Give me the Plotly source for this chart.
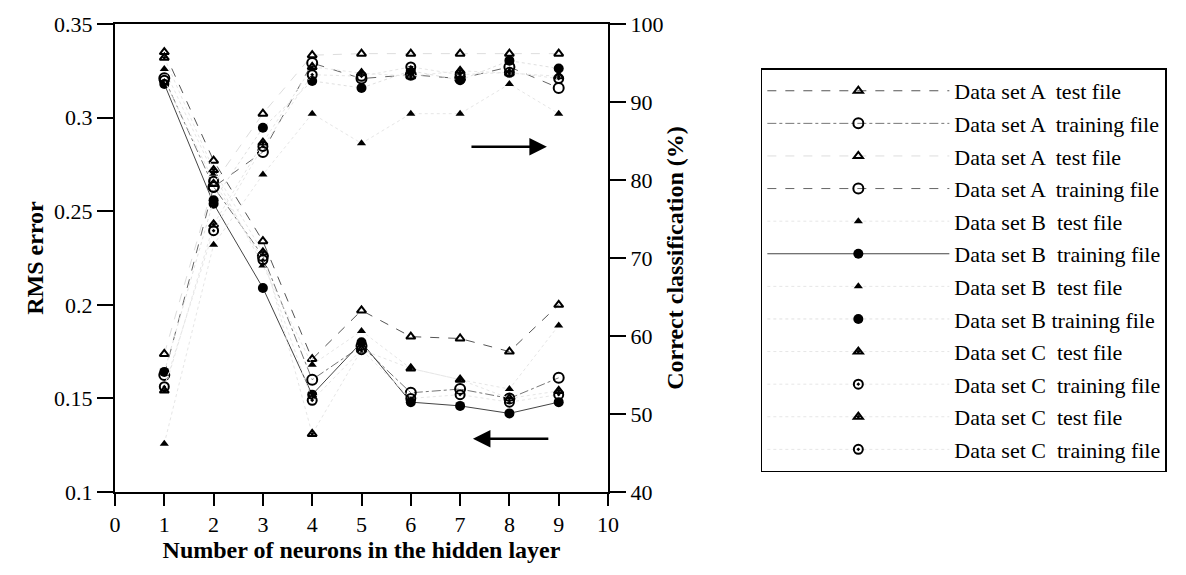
import plotly.graph_objects as go

neurons = [1, 2, 3, 4, 5, 6, 7, 8, 9]

# RMS error (left axis)
rms_a_test = [0.335, 0.277, 0.234, 0.171, 0.197, 0.183, 0.182, 0.175, 0.200]
rms_a_train = [0.321, 0.263, 0.226, 0.160, 0.178, 0.153, 0.155, 0.150, 0.161]
rms_b_test = [0.326, 0.270, 0.221, 0.168, 0.186, 0.166, 0.160, 0.155, 0.189]
rms_b_train = [0.318, 0.254, 0.209, 0.152, 0.180, 0.148, 0.146, 0.142, 0.148]
rms_c_test = [0.332, 0.272, 0.228, 0.131, 0.176, 0.166, 0.160, 0.150, 0.154]
rms_c_train = [0.320, 0.266, 0.224, 0.149, 0.176, 0.150, 0.152, 0.148, 0.152]

# Correct classification % (right axis)
cls_a_test = [57.7, 79.5, 88.5, 96.0, 96.2, 96.2, 96.2, 96.2, 96.2]
cls_a_train = [55.0, 79.1, 83.6, 95.0, 93.0, 93.5, 93.0, 94.5, 91.8]
cls_b_test = [46.2, 71.7, 80.7, 88.5, 84.7, 88.5, 88.5, 92.3, 88.5]
cls_b_train = [55.4, 77.4, 86.7, 92.7, 91.8, 94.0, 92.8, 95.3, 94.3]
cls_c_test = [53.0, 74.3, 84.8, 94.5, 93.7, 93.3, 94.0, 93.7, 93.3]
cls_c_train = [53.5, 73.5, 84.3, 93.5, 93.3, 94.5, 93.5, 93.8, 93.0]

series = [
    ("Data set A  test file", rms_a_test, "y", "triangle-up-open", 8, "dash", "#555"),
    ("Data set A  training file", rms_a_train, "y", "circle-open", 10, "dashdot", "#777"),
    ("Data set A  test file", cls_a_test, "y2", "triangle-up-open", 8, "dash", "#ddd"),
    ("Data set A  training file", cls_a_train, "y2", "circle-open", 10, "dash", "#666"),
    ("Data set B  test file", rms_b_test, "y", "triangle-up", 8, "dot", "#e6e6e6"),
    ("Data set B  training file", rms_b_train, "y", "circle", 10, "solid", "#444"),
    ("Data set B  test file", cls_b_test, "y2", "triangle-up", 8, "dot", "#e6e6e6"),
    ("Data set B training file", cls_b_train, "y2", "circle", 10, "dot", "#e0e0e0"),
    ("Data set C  test file", rms_c_test, "y", "triangle-up-open-dot", 8, "dot", "#e6e6e6"),
    ("Data set C  training file", rms_c_train, "y", "circle-open-dot", 9, "dot", "#e6e6e6"),
    ("Data set C  test file", cls_c_test, "y2", "triangle-up-open-dot", 8, "dot", "#e6e6e6"),
    ("Data set C  training file", cls_c_train, "y2", "circle-open-dot", 9, "dot", "#e6e6e6"),
]

fig = go.Figure()
for i, (name, vals, ax, sym, size, dash, lcol) in enumerate(series):
    fig.add_trace(go.Scatter(
        x=neurons, y=vals, name=name, yaxis=ax, mode="lines+markers",
        legendgroup=f"g{i}",
        line=dict(color=lcol, width=1, dash=dash),
        marker=dict(symbol=sym, size=size, color="black",
                    line=dict(color="black", width=2 if "open" in sym else 0)),
    ))

font_family = "Liberation Serif, Times New Roman, serif"

fig.update_layout(
    width=1186, height=575,
    margin=dict(l=115, r=578, t=17, b=83),
    paper_bgcolor="white", plot_bgcolor="white",
    font=dict(family=font_family, color="black", size=17),
    showlegend=True,
    legend=dict(
        x=1.31, y=0.905, xanchor="left", yanchor="top",
        bordercolor="black", borderwidth=1.5,
        font=dict(size=22, family=font_family),
        itemwidth=182, tracegroupgap=1, traceorder="grouped",
    ),
    xaxis=dict(
        range=[0, 10], dtick=1, tick0=0, showgrid=False, zeroline=False,
        showline=True, linecolor="black", linewidth=2, mirror=True,
        ticks="outside", ticklen=12, tickwidth=2, tickcolor="black",
        title=dict(text="<b>Number of neurons in the hidden layer</b>",
                   font=dict(size=24), standoff=4),
        tickfont=dict(size=22),
    ),
    yaxis=dict(
        range=[0.1, 0.35], dtick=0.05, tick0=0.1, showgrid=False, zeroline=False,
        showline=True, linecolor="black", linewidth=2,
        ticks="outside", ticklen=16, tickwidth=2, tickcolor="black",
        title=dict(text="<b>RMS error</b>", font=dict(size=24), standoff=4),
        tickfont=dict(size=22),
    ),
    yaxis2=dict(
        range=[40, 100], dtick=10, tick0=40, overlaying="y", side="right",
        showgrid=False, zeroline=False,
        showline=True, linecolor="black", linewidth=2,
        ticks="outside", ticklen=16, tickwidth=2, tickcolor="black",
        title=dict(text="<b>Correct classification (%)</b>", font=dict(size=24), standoff=4),
        tickfont=dict(size=22),
    ),
)

# direction arrows
fig.add_annotation(x=8.76, y=0.2844, ax=7.2, ay=0.2844, xref="x", yref="y",
                   axref="x", ayref="y", text="", showarrow=True,
                   arrowhead=2, arrowsize=1.4, arrowwidth=2.5, arrowcolor="black")
fig.add_annotation(x=7.26, y=0.1284, ax=8.82, ay=0.1284, xref="x", yref="y",
                   axref="x", ayref="y", text="", showarrow=True,
                   arrowhead=2, arrowsize=1.4, arrowwidth=2.5, arrowcolor="black")

fig.write_html("out.html")
